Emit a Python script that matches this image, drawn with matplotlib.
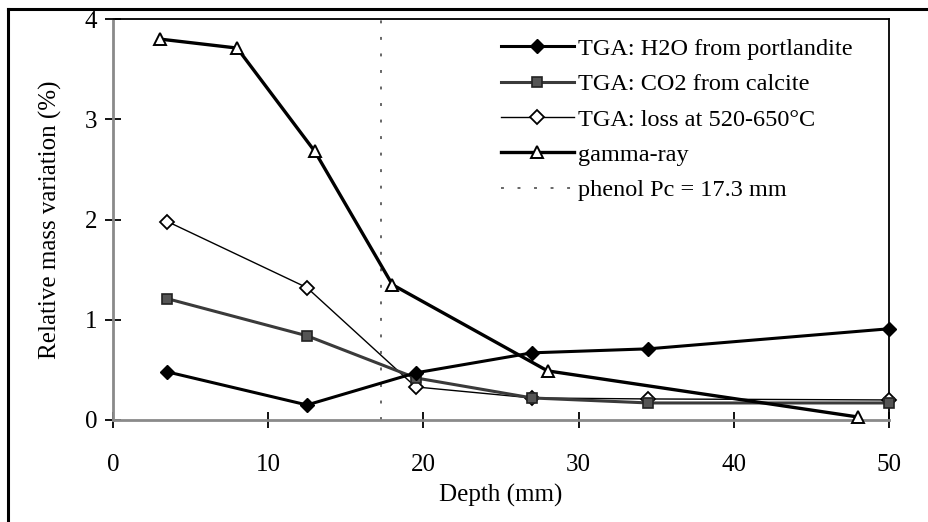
import numpy as np
import matplotlib
matplotlib.use('Agg')
import matplotlib.pyplot as plt
from matplotlib.lines import Line2D

plt.rcParams['font.family'] = ['Liberation Serif', 'DejaVu Serif']

# depth (mm) and relative mass variation (%)
depth_tga = [3.5, 12.5, 19.5, 27, 34.5, 50]
h2o_portlandite = [0.48, 0.15, 0.47, 0.67, 0.71, 0.91]
co2_calcite = [1.21, 0.84, 0.42, 0.22, 0.17, 0.17]
loss_520_650 = [1.98, 1.32, 0.33, 0.22, 0.21, 0.20]

depth_gamma = [3, 8, 13, 18, 28, 48]
gamma_ray = [3.80, 3.71, 2.68, 1.35, 0.49, 0.03]

phenol_pc = 17.3

labels = ['TGA: H2O from portlandite', 'TGA: CO2 from calcite',
          'TGA: loss at 520-650°C', 'gamma-ray', 'phenol Pc = 17.3 mm']

fig = plt.figure(figsize=(9.29, 5.22), dpi=100)
ax = fig.add_axes([113/929, 1-420/522, 776/929, 401/522])

ax.plot(depth_tga, loss_520_650, color='k', lw=1.0, marker='D', ms=7,
        mfc='white', mec='k', mew=1.3, label=labels[2], zorder=3, clip_on=False)
ax.plot(depth_tga, co2_calcite, color='#3a3a3a', lw=2.2, marker='s', ms=6.5,
        mfc='#555555', mec='#222222', mew=1.2, label=labels[1], zorder=3,
        clip_on=False)
ax.plot(depth_gamma, gamma_ray, color='k', lw=2.4, marker='^', ms=9,
        mfc='white', mec='k', mew=1.4, label=labels[3], zorder=4, clip_on=False)
ax.plot(depth_tga, h2o_portlandite, color='k', lw=2.2, marker='D', ms=7,
        mfc='k', mec='k', label=labels[0], zorder=5, clip_on=False)
ax.axvline(phenol_pc, color='#666666', lw=1.4, ls=(0, (1.5, 7)),
           label=labels[4], zorder=2)

ax.set_xlim(0, 50)
ax.set_ylim(0, 4)
ax.set_xticks(range(0, 51, 10))
ax.set_yticks(range(0, 5))

for side in ['left', 'bottom']:
    ax.spines[side].set_color('#8a8a8a')
    ax.spines[side].set_linewidth(2.0)
for side in ['top', 'right']:
    ax.spines[side].set_color('k')
    ax.spines[side].set_linewidth(1.3)

ax.tick_params(axis='x', direction='inout', length=11, width=1.3,
               labelsize=18, pad=19)
ax.tick_params(axis='y', direction='inout', length=11, width=1.3,
               labelsize=18, pad=6)
ax.set_xlabel('Depth (mm)', fontsize=18, labelpad=6)
ax.set_ylabel('Relative mass variation (%)', fontsize=18, labelpad=16)

h, l = ax.get_legend_handles_labels()
hd = dict(zip(l, h))
ax.legend([hd[x] for x in labels], labels, loc='upper left',
          bbox_to_anchor=(0.500, 0.953), frameon=False, fontsize=17.5,
          handlelength=3.0, handletextpad=0.15, borderpad=0,
          borderaxespad=0, labelspacing=0.55)

# outer frame (left and top edges only)
fig.add_artist(Line2D([8/929, 8/929], [0, 1-9/522], color='k', lw=2.2,
                      transform=fig.transFigure))
fig.add_artist(Line2D([8/929, 1], [1-9/522, 1-9/522], color='k', lw=2.2,
                      transform=fig.transFigure))

fig.savefig('out.png', dpi=100)
